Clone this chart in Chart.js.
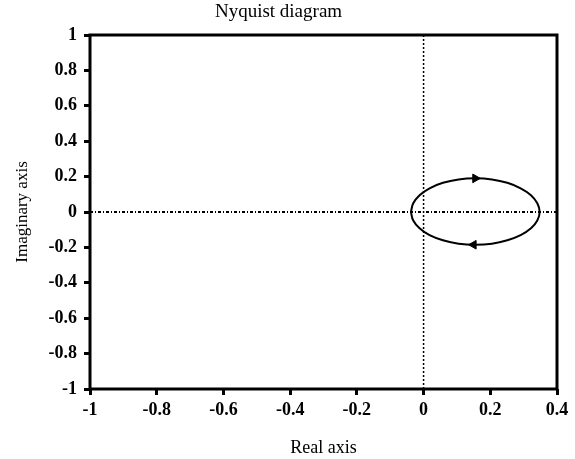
<!DOCTYPE html>
<html>
<head>
<meta charset="utf-8">
<script src="https://cdn.jsdelivr.net/npm/chart.js@4/dist/chart.umd.min.js"></script>
<style>
  body { margin: 0; background: #fff; }
  canvas { display: block; }
</style>
</head>
<body>
<canvas id="nyquist" width="575" height="459"></canvas>
<script>
// Nyquist curve (clockwise: top half left->right, bottom half right->left)
const curveRe = [-0.038, -0.031, -0.012, 0.018, 0.058, 0.105, 0.155, 0.205, 0.251, 0.291, 0.322, 0.341, 0.348,
                 0.341, 0.322, 0.291, 0.251, 0.205, 0.155, 0.105, 0.058, 0.018, -0.012, -0.031, -0.038];
const curveIm = [0, 0.049, 0.095, 0.134, 0.165, 0.184, 0.19, 0.184, 0.165, 0.134, 0.095, 0.049, 0,
                 -0.048, -0.092, -0.131, -0.16, -0.179, -0.185, -0.179, -0.16, -0.131, -0.092, -0.048, 0];

// direction arrows
const arrowRe = [0.155, 0.15];
const arrowIm = [0.19, -0.185];
const arrowAngle = [90, -90];

// tick labels
const xTicks = [-1, -0.8, -0.6, -0.4, -0.2, 0, 0.2, 0.4];
const yTicks = [-1, -0.8, -0.6, -0.4, -0.2, 0, 0.2, 0.4, 0.6, 0.8, 1];

const serif = "'Liberation Serif', 'Times New Roman', serif";

function toPoints(xs, ys) {
    return xs.map((x, i) => ({ x: x, y: ys[i] }));
}

function fmt(v) {
    return String(Math.round(v * 10) / 10);
}

// draws the box round the plot area
const framePlugin = {
    id: "frame",
    afterDatasetsDraw(chart) {
        const a = chart.chartArea;
        const ctx = chart.ctx;
        ctx.save();
        ctx.strokeStyle = "#000";
        ctx.lineWidth = 3;
        ctx.strokeRect(a.left, a.top, a.right - a.left, a.bottom - a.top);
        ctx.restore();
    }
};

new Chart(document.getElementById("nyquist"), {
    type: "scatter",
    data: {
        datasets: [
            {
                // arrows
                data: toPoints(arrowRe, arrowIm),
                pointStyle: "triangle",
                rotation: arrowAngle,
                pointRadius: 5,
                backgroundColor: "#000",
                borderColor: "#000",
                borderWidth: 1,
                showLine: false,
                order: 0
            },
            {
                // curve
                data: toPoints(curveRe, curveIm),
                showLine: true,
                tension: 0.4,
                borderColor: "#000",
                borderWidth: 2,
                pointRadius: 0,
                order: 1
            },
            {
                // vertical zero line
                data: [{ x: 0, y: -1 }, { x: 0, y: 1 }],
                showLine: true,
                borderColor: "#000",
                borderWidth: 1.5,
                borderDash: [2, 2],
                pointRadius: 0,
                order: 2
            },
            {
                // horizontal zero line
                data: [{ x: -1, y: 0 }, { x: 0.4, y: 0 }],
                showLine: true,
                borderColor: "#000",
                borderWidth: 2,
                borderDash: [3, 2, 1, 2],
                pointRadius: 0,
                order: 3
            }
        ]
    },
    options: {
        responsive: false,
        animation: false,
        layout: { padding: { left: 0, right: 18, top: 0, bottom: 0 } },
        plugins: {
            legend: { display: false },
            tooltip: { enabled: false },
            title: {
                display: true,
                text: "Nyquist diagram",
                color: "#000",
                font: { family: serif, size: 19, weight: "normal" },
                padding: { top: 1, bottom: 11.2 }
            }
        },
        scales: {
            x: {
                min: -1,
                max: 0.4,
                afterBuildTicks: s => { s.ticks = xTicks.map(v => ({ value: v })); },
                afterFit: s => { s.height = 70; },
                border: { display: false },
                grid: { drawOnChartArea: false, drawTicks: true, tickLength: 6, lineWidth: 3, color: "#000" },
                ticks: {
                    color: "#000",
                    padding: 5,
                    maxRotation: 0,
                    font: { family: serif, size: 18, weight: "bold" },
                    callback: v => fmt(v)
                },
                title: {
                    display: true,
                    text: "Real axis",
                    color: "#000",
                    font: { family: serif, size: 18 },
                    padding: { top: 0, bottom: 0 }
                }
            },
            y: {
                min: -1,
                max: 1,
                afterBuildTicks: s => { s.ticks = yTicks.map(v => ({ value: v })); },
                afterFit: s => { s.width = 90; },
                border: { display: false },
                grid: { drawOnChartArea: false, drawTicks: true, tickLength: 6, lineWidth: 3, color: "#000" },
                ticks: {
                    color: "#000",
                    padding: 7,
                    font: { family: serif, size: 18, weight: "bold" },
                    callback: v => fmt(v)
                },
                title: {
                    display: true,
                    text: "Imaginary axis",
                    color: "#000",
                    font: { family: serif, size: 17 },
                    padding: { top: 12, bottom: 0 }
                }
            }
        }
    },
    plugins: [framePlugin]
});
</script>
</body>
</html>
